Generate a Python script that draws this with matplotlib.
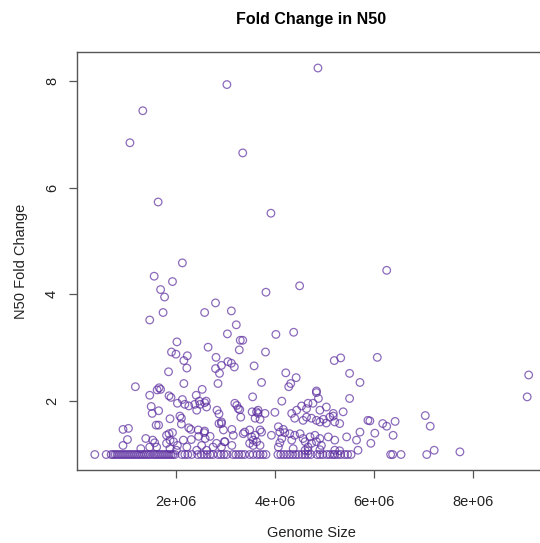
import matplotlib.pyplot as plt
import numpy as np

# genome size (Mb) and N50 fold change for each assembly
genome_mb = [
    4.87, 3.03, 1.33, 1.07, 3.35, 1.64, 3.92,
    2.13, 1.56, 1.93, 1.69, 1.77, 1.74, 1.47, 2.80, 2.58, 3.12, 3.04, 2.02, 1.91,
    2.00, 2.23, 2.16, 2.22, 2.65, 2.81, 3.05, 2.80, 2.92, 2.88, 1.85, 2.16, 2.85,
    1.18, 1.66, 1.69, 2.53,
    4.50, 3.82, 3.22, 4.02, 4.38, 3.30, 3.35, 3.28, 3.81, 3.12, 3.18, 3.58, 5.20,
    5.33, 6.07, 4.22, 4.43, 4.32, 4.28, 3.73, 5.51, 5.72, 4.84,
    6.26, 9.13, 9.10, 7.04, 7.14, 6.43, 6.18, 6.26, 6.02, 6.39, 5.94, 5.92, 7.22, 7.74,
    1.62, 1.47, 1.86, 1.90, 2.41, 1.50, 1.52, 1.65, 2.03, 2.13, 2.18, 2.26, 2.38,
    2.49, 2.58, 2.61, 2.47, 1.88, 2.08, 2.11, 2.83, 2.87, 1.60, 1.65, 2.11, 2.87,
    2.92, 0.93, 1.04, 2.26, 2.30, 2.45, 2.58, 1.86, 1.93, 1.02, 0.93, 1.39, 1.53,
    1.57, 1.81, 1.88, 1.95, 2.03, 2.15, 2.31, 2.46, 2.57, 2.59, 2.69, 2.82, 2.98,
    1.29, 1.47, 1.61, 1.81, 1.88, 2.01, 2.22, 2.42, 2.52, 2.62, 2.75,
    3.55, 4.14, 3.19, 3.23, 3.29, 3.31, 2.92, 3.54, 3.63, 3.66, 3.80, 4.00, 3.60,
    3.70, 4.34, 4.44, 4.54, 4.64, 4.67, 4.77, 4.84, 4.88, 4.91, 4.64, 4.74, 4.84,
    4.91, 4.98, 5.04, 5.11, 5.18, 5.21, 5.31, 5.38, 5.51, 5.88, 5.68, 5.72, 5.65,
    5.45, 5.21, 5.08, 2.96, 3.13, 3.16, 2.99, 2.92, 3.13, 3.36, 3.39, 3.49, 3.53,
    3.56, 3.60, 3.70, 3.73, 3.49, 3.56, 3.70, 3.63, 3.93, 4.07, 4.10, 4.17, 4.20,
    4.14, 4.07, 4.10, 4.30, 4.40, 4.51, 4.57, 4.61, 4.71, 4.74, 4.67, 4.81, 4.84,
    4.91, 4.94, 4.34, 4.37, 4.61, 4.67, 4.91, 5.21, 5.31,
    4.40, 4.57, 5.04, 5.18, 2.42, 2.62, 3.26, 3.66,
]
fold_change = [
    8.24, 7.93, 7.44, 6.84, 6.65, 5.73, 5.52,
    4.59, 4.34, 4.24, 4.09, 3.95, 3.66, 3.52, 3.84, 3.66, 3.69, 3.26, 3.11, 2.92,
    2.88, 2.85, 2.76, 2.62, 3.01, 2.82, 2.74, 2.61, 2.67, 2.52, 2.55, 2.33, 2.33,
    2.27, 2.25, 2.22, 2.22,
    4.16, 4.04, 3.43, 3.25, 3.29, 3.14, 3.14, 2.96, 2.92, 2.71, 2.64, 2.66, 2.76,
    2.81, 2.82, 2.53, 2.44, 2.33, 2.27, 2.35, 2.52, 2.35, 2.19,
    4.45, 2.49, 2.08, 1.73, 1.53, 1.62, 1.58, 1.53, 1.40, 1.36, 1.21, 1.63, 1.08, 1.05,
    2.21, 2.11, 2.10, 2.07, 2.11, 1.90, 1.77, 1.82, 1.96, 2.03, 1.94, 1.91, 1.94,
    1.94, 1.97, 2.00, 2.00, 1.67, 1.72, 1.68, 1.83, 1.76, 1.55, 1.55, 1.57, 1.58,
    1.58, 1.47, 1.49, 1.50, 1.47, 1.46, 1.44, 1.39, 1.41, 1.28, 1.17, 1.30, 1.27,
    1.22, 1.36, 1.27, 1.24, 1.17, 1.27, 1.28, 1.34, 1.41, 1.30, 1.34, 1.21, 1.24,
    1.11, 1.14, 1.14, 1.21, 1.11, 1.08, 1.14, 1.08, 1.17, 1.08, 1.14,
    2.08, 2.00, 1.96, 1.92, 1.84, 1.70, 1.61, 1.80, 1.80, 1.77, 1.77, 1.79, 1.68,
    1.66, 1.77, 1.83, 1.91, 1.86, 1.96, 1.96, 2.16, 2.05, 1.83, 1.70, 1.68, 1.64,
    1.61, 1.66, 1.59, 1.70, 1.77, 1.61, 1.58, 1.80, 2.05, 1.64, 1.08, 1.42, 1.27,
    1.33, 1.27, 1.33, 1.46, 1.47, 1.36, 1.24, 1.14, 1.17, 1.39, 1.42, 1.46, 1.33,
    1.27, 1.36, 1.46, 1.42, 1.21, 1.17, 1.17, 1.24, 1.36, 1.52, 1.42, 1.47, 1.41,
    1.30, 1.14, 1.22, 1.39, 1.36, 1.39, 1.30, 1.24, 1.33, 1.21, 1.14, 1.36, 1.24,
    1.30, 1.17, 1.27, 1.11, 1.08, 1.07, 1.09, 1.08, 1.07,
    1.68, 1.64, 1.89, 1.72, 1.83, 1.89, 1.86, 1.83,
]

# assemblies whose N50 did not change (fold change of exactly 1)
unchanged_mb = [
    0.36, 0.59, 0.69, 0.73, 0.77, 0.81, 0.85, 0.89, 0.93, 0.97, 1.01, 1.05, 1.09,
    1.13, 1.17, 1.21, 1.25, 1.29, 1.33, 1.37, 1.41, 1.45, 1.49, 1.54, 1.58, 1.62,
    1.66, 1.70, 1.74, 1.78, 1.82, 1.86, 1.90, 1.94, 1.98, 2.12, 2.18, 2.24, 2.32,
    2.44, 2.51, 2.57, 2.63, 2.69, 2.75, 2.85, 2.91, 2.97, 3.03, 3.15, 3.21, 3.27,
    3.33, 3.39, 3.49, 3.56, 3.64, 3.70, 3.76, 3.82, 4.06, 4.12, 4.18, 4.24, 4.30,
    4.36, 4.42, 4.48, 4.55, 4.61, 4.67, 4.73, 4.85, 4.91, 4.97, 5.05, 5.11, 5.17,
    5.21, 5.27, 5.33, 5.41, 5.47, 5.54, 6.34, 6.38, 6.55, 7.07,
]

x = np.array(genome_mb + unchanged_mb) * 1e6
y = np.array(fold_change + [1.0] * len(unchanged_mb))

plt.rcParams['font.family'] = ['Liberation Sans', 'DejaVu Sans']

fig = plt.figure(figsize=(5.4, 5.43), dpi=100)
ax = fig.add_axes([77 / 540, 1 - 470 / 543, 468 / 540, 418 / 543])

ax.scatter(x, y, s=30, facecolors='none', edgecolors='#5B2C9E',
           linewidths=0.9, alpha=0.7)

ax.set_xlim(0, 9.46e6)
ax.set_ylim(0.71, 8.54)
ax.set_xticks([2e6, 4e6, 6e6, 8e6])
ax.set_xticklabels(['2e+06', '4e+06', '6e+06', '8e+06'])
ax.set_yticks([2, 4, 6, 8])
ax.set_yticklabels(['2', '4', '6', '8'], rotation=90, va='center')

for s in ax.spines.values():
    s.set_color('#555555')
    s.set_linewidth(1.0)
ax.tick_params(axis='both', length=6, width=0.9, color='#555555',
               labelsize=10.5, labelcolor='#222222')
ax.tick_params(axis='x', pad=12)
ax.tick_params(axis='y', pad=7)

ax.set_title('Fold Change in N50', fontsize=11.5, fontweight='bold', pad=20)
ax.set_xlabel('Genome Size', fontsize=10.5, labelpad=12, color='#222222')
ax.set_ylabel('N50 Fold Change', fontsize=10.5, labelpad=12, color='#222222')

fig.savefig('out.png', dpi=100)
